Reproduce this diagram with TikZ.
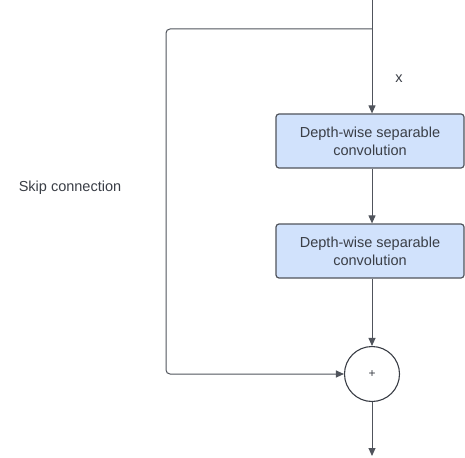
\documentclass[tikz,border=0pt]{standalone}
\usepackage{fontspec}
\setmainfont{Liberation Sans}
\usetikzlibrary{arrows.meta}
\definecolor{convfill}{RGB}{209,226,252}
\definecolor{linegray}{RGB}{80,84,92}
\definecolor{textgray}{RGB}{58,62,70}

\begin{document}
\begin{tikzpicture}[x=1pt,y=-1pt,
  convbox/.style={draw=linegray,fill=convfill,line width=1.2pt,rounded corners=3pt,
    minimum width=188pt,minimum height=54pt,align=center,text=textgray,
    font=\fontsize{14.5}{18}\selectfont,inner sep=0pt},
  addnode/.style={draw=textgray,fill=white,circle,line width=1.1pt,minimum size=55pt,
    inner sep=0pt,text=textgray,font=\fontsize{12}{14}\selectfont},
  flow/.style={draw=linegray,line width=1pt,-{Triangle[length=8pt,width=7pt]}},
  lbl/.style={text=textgray,font=\fontsize{14.5}{18}\selectfont}]
\useasboundingbox (0,0) rectangle (465,457);
\coordinate (top) at (372,0);
\coordinate (split) at (372,29);
\coordinate (skipcorner) at (166,29);
\coordinate (out) at (372,456);
\node[convbox] (conv1) at (370,141) {Depth-wise separable\\convolution};
\node[convbox] (conv2) at (370,251) {Depth-wise separable\\convolution};
\node[addnode] (add) at (372,374) {+};
\node[lbl] (xlabel) at (399,79) {x};
\node[lbl] (skiplabel) at (70,188) {Skip connection};
\draw[flow] (top) -- (top |- conv1.north);
\draw[flow] (conv1.south -| top) -- (top |- conv2.north);
\draw[flow] (conv2.south -| top) -- (add.north);
\draw[flow,rounded corners=4pt] (split) -- (skipcorner) |- (add.west);
\draw[flow] (add.south) -- (out);
\end{tikzpicture}
\end{document}
